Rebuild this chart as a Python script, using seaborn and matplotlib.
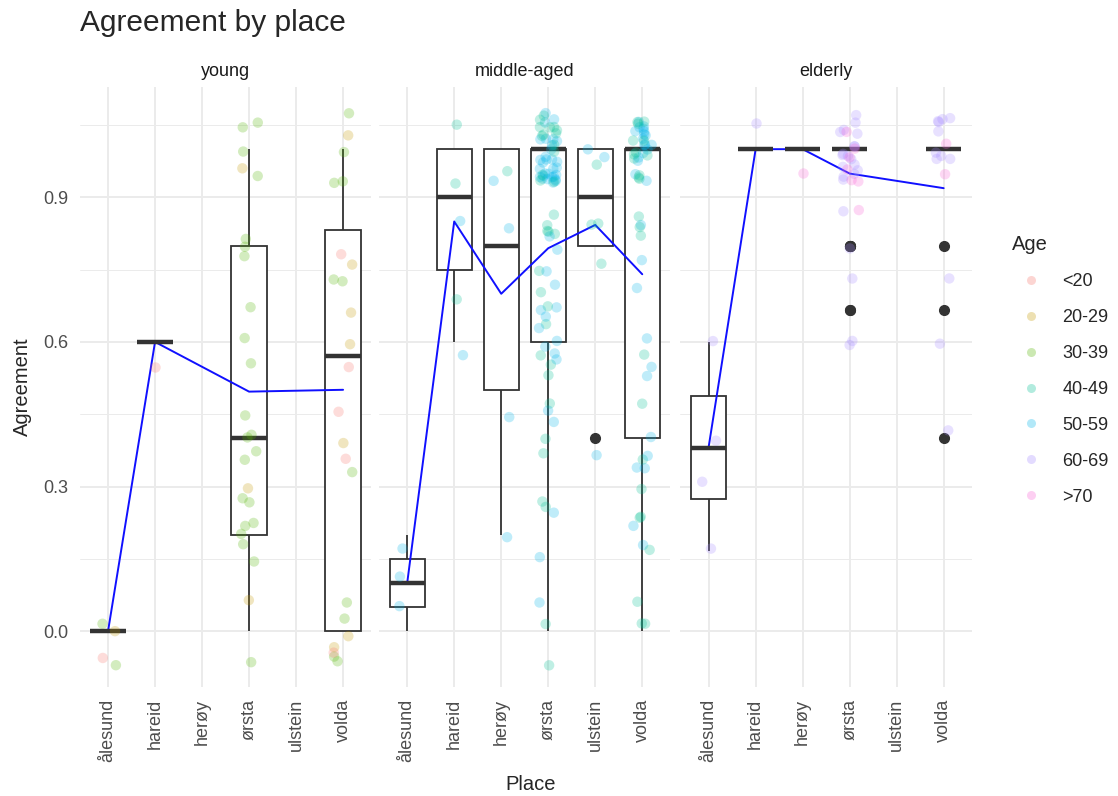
import numpy as np
import pandas as pd
import seaborn as sns
import matplotlib.pyplot as plt
from matplotlib.lines import Line2D
from matplotlib.ticker import MultipleLocator, FormatStrFormatter

places = ["ålesund", "hareid", "herøy", "ørsta", "ulstein", "volda"]
age_groups = ["young", "middle-aged", "elderly"]
age_levels = ["<20", "20-29", "30-39", "40-49", "50-59", "60-69", ">70"]
age_colors = ["#F8766D", "#C49A00", "#53B400", "#00C094", "#00B6EB", "#A58AFF", "#FB61D7"]

# young informants
young_alesund = [0, 0, 0, 0]
young_alesund_age = ["<20", "20-29", "30-39", "30-39"]
young_hareid = [0.6]
young_hareid_age = ["<20"]
young_orsta = [0, 0] + [0.2] * 6 + [0.33] * 4 + [0.4] * 3 + [0.6] * 3 + [0.8] * 3 + [1] * 5
young_orsta_age = (["20-29", "30-39"] + ["30-39"] * 6 + ["20-29"] + ["30-39"] * 3
                   + ["30-39"] * 9 + ["20-29"] + ["30-39"] * 4)
young_volda = [0] * 7 + [0.33, 0.4, 0.4, 0.5, 0.571, 0.6, 0.6, 0.7, 0.75, 0.833, 0.833] + [1] * 5
young_volda_age = ["20-29", "30-39", "30-39", "20-29", "30-39", "30-39", "<20",
                   "20-29", "<20", "30-39", "<20", "<20", "20-29", "20-29", "30-39",
                   "30-39", "20-29", "<20",
                   "30-39", "30-39", "20-29", "30-39", "30-39"]

# middle-aged informants
mid_alesund = [0, 0.1, 0.2]
mid_alesund_age = ["50-59"] * 3
mid_hareid = [0.6, 0.75, 0.9, 1, 1]
mid_hareid_age = ["50-59", "40-49", "50-59", "40-49", "40-49"]
mid_heroy = [0.2, 0.5, 0.8, 1, 1]
mid_heroy_age = ["50-59", "50-59", "50-59", "40-49", "50-59"]
mid_orsta = ([0] * 3 + [0.2] * 2 + [0.33] * 2 + [0.4] * 3 + [0.5] * 3 + [0.6] * 8
             + [0.667] * 6 + [0.8] * 8 + [0.9] * 4 + [1] * 41)
mid_orsta_age = (["40-49", "50-59", "40-49"] + ["50-59"] * 2 + ["40-49"] * 2
                 + ["40-49", "50-59", "40-49"] + ["40-49", "50-59", "40-49"]
                 + ["50-59"] * 5 + ["40-49"] * 3 + ["50-59"] * 4 + ["40-49"] * 2
                 + ["40-49"] * 5 + ["50-59"] * 3 + ["50-59"] * 3 + ["40-49"]
                 + ["50-59"] * 27 + ["40-49"] * 14)
mid_ulstein = [0.4, 0.8, 0.8, 0.9, 1, 1, 1]
mid_ulstein_age = ["50-59", "40-49", "40-49", "40-49", "50-59", "50-59", "40-49"]
mid_volda = ([0] * 2 + [0.1] + [0.2] * 4 + [0.25] * 2 + [0.33] * 2 + [0.4] * 4 + [0.6] * 4
             + [0.667] + [0.8] * 5 + [1] * 30)
mid_volda_age = (["40-49", "40-49", "40-49", "50-59", "50-59", "40-49", "40-49",
                  "40-49", "40-49", "50-59", "40-49", "50-59", "50-59", "40-49", "50-59",
                  "40-49", "50-59", "50-59", "50-59", "50-59",
                  "50-59", "40-49", "40-49", "40-49", "50-59"]
                 + ["50-59"] * 18 + ["40-49"] * 12)

# elderly informants
eld_alesund = [0.167, 0.31, 0.45, 0.6]
eld_alesund_age = ["60-69"] * 4
eld_hareid = [1]
eld_hareid_age = ["60-69"]
eld_heroy = [1]
eld_heroy_age = [">70"]
eld_orsta = [0.667] * 2 + [0.8] * 4 + [1] * 23
eld_orsta_age = ["60-69"] * 5 + [">70"] + ["60-69"] * 17 + [">70"] * 6
eld_volda = [0.4, 0.667, 0.8] + [1] * 11
eld_volda_age = ["60-69"] * 12 + [">70"] * 2

cells = [
    ("young", "ålesund", young_alesund, young_alesund_age),
    ("young", "hareid", young_hareid, young_hareid_age),
    ("young", "ørsta", young_orsta, young_orsta_age),
    ("young", "volda", young_volda, young_volda_age),
    ("middle-aged", "ålesund", mid_alesund, mid_alesund_age),
    ("middle-aged", "hareid", mid_hareid, mid_hareid_age),
    ("middle-aged", "herøy", mid_heroy, mid_heroy_age),
    ("middle-aged", "ørsta", mid_orsta, mid_orsta_age),
    ("middle-aged", "ulstein", mid_ulstein, mid_ulstein_age),
    ("middle-aged", "volda", mid_volda, mid_volda_age),
    ("elderly", "ålesund", eld_alesund, eld_alesund_age),
    ("elderly", "hareid", eld_hareid, eld_hareid_age),
    ("elderly", "herøy", eld_heroy, eld_heroy_age),
    ("elderly", "ørsta", eld_orsta, eld_orsta_age),
    ("elderly", "volda", eld_volda, eld_volda_age),
]
df = pd.concat([pd.DataFrame({"group": g, "place": p, "agreement": v, "age": a})
                for g, p, v, a in cells], ignore_index=True)
df["pos"] = df["place"].map({p: k for k, p in enumerate(places)})

# vertical display jitter like geom_jitter; stats use the real values
np.random.seed(5)
rng = np.random.default_rng(11)
df["shown"] = df["agreement"] + rng.uniform(-0.075, 0.075, len(df))

palette = dict(zip(age_levels, age_colors))

sns.set_theme(style="whitegrid")
plt.rcParams["font.family"] = ["Liberation Sans", "DejaVu Sans"]

fig = plt.figure(figsize=(11.18, 7.96), dpi=100)
lefts = [0.0714, 0.3390, 0.6086]
axes = []
for i, (grp, left) in enumerate(zip(age_groups, lefts)):
    ax = fig.add_axes([left, 0.1369, 0.2607, 0.7538], sharey=axes[0] if axes else None)
    axes.append(ax)
    sub = df[df["group"] == grp]
    sns.boxplot(data=sub, x="place", y="agreement", order=places, color="white",
                linecolor="#333333", width=0.75, linewidth=1.3, showcaps=False,
                medianprops=dict(linewidth=3.2),
                flierprops=dict(marker="o", markerfacecolor="#333333",
                                markeredgecolor="#333333", markersize=7),
                ax=ax)
    sns.stripplot(data=sub, x="place", y="shown", order=places, hue="age",
                  hue_order=age_levels, palette=palette, jitter=0.2, size=7.5,
                  alpha=0.25, linewidth=0, legend=False, ax=ax)
    # mean per place, joined across the places that have data
    sns.lineplot(data=sub, x="pos", y="agreement", estimator="mean", errorbar=None,
                 color="#1010FF", linewidth=1.4, ax=ax)

    ax.set_xlim(-0.6, 5.6)
    ax.set_ylim(-0.116, 1.129)
    ax.set_xticks(range(len(places)))
    ax.set_xticklabels(places, rotation=90)
    ax.yaxis.set_major_locator(MultipleLocator(0.3))
    ax.yaxis.set_minor_locator(MultipleLocator(0.15))
    ax.yaxis.set_major_formatter(FormatStrFormatter("%.1f"))
    ax.set_facecolor("white")
    ax.set_axisbelow(True)
    ax.grid(True, which="major", color="#EBEBEB", linewidth=1.4)
    ax.grid(True, which="minor", axis="y", color="#EBEBEB", linewidth=0.7)
    ax.tick_params(which="both", length=0, labelsize=13, labelcolor="#4D4D4D", pad=8.5)
    for s in ax.spines.values():
        s.set_visible(False)
    ax.set_xlabel("")
    ax.set_ylabel("")
    if i > 0:
        ax.tick_params(labelleft=False)
    ax.text(0.5, 1.019, grp, transform=ax.transAxes, ha="center", va="baseline",
            fontsize=13, color="#1A1A1A")

fig.text(80 / 1118, 1 - 31 / 796, "Agreement by place", fontsize=21.5, va="baseline")
fig.text(531 / 1118, 1 - 790 / 796, "Place", fontsize=14.5, ha="center", va="baseline")
fig.text(22.5 / 1118, 1 - 387 / 796, "Agreement", fontsize=14.5, rotation=90,
         ha="center", va="center")

handles = [Line2D([], [], ls="", marker="o", markersize=6.5, markerfacecolor=c,
                  markeredgewidth=0, alpha=0.3) for c in age_colors]
fig.legend(handles, age_levels, title="Age", loc="upper left",
           bbox_to_anchor=(1012 / 1118, 1 - 235 / 796), frameon=False, fontsize=13,
           title_fontsize=14.5, alignment="left", borderpad=0, borderaxespad=0,
           handlelength=2.1, handletextpad=0.68, labelspacing=1.05)

fig.savefig("out.png", dpi=100)
